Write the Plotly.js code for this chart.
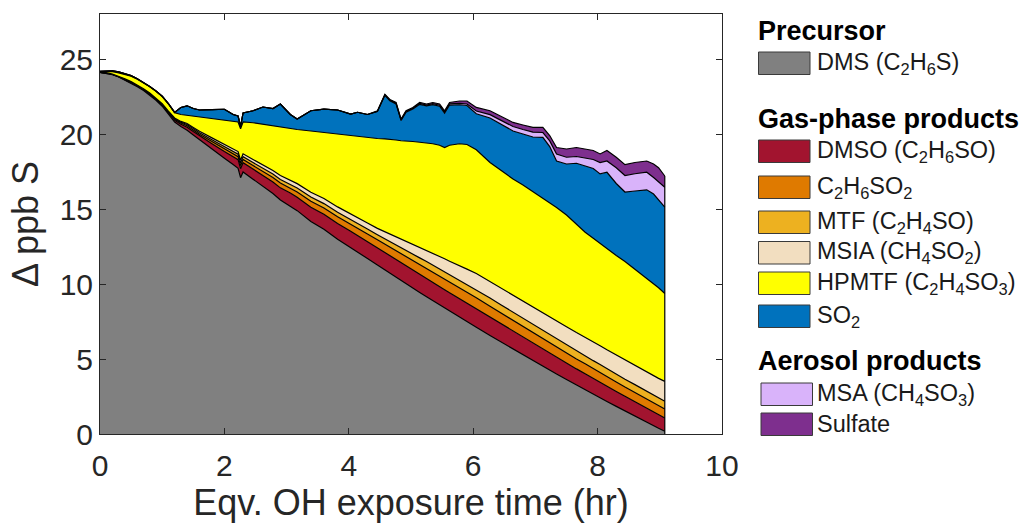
<!DOCTYPE html>
<html>
<head>
<meta charset="utf-8">
<script src="https://cdn.plot.ly/plotly-3.0.1.min.js"></script>
<style>html,body{margin:0;padding:0;background:#fff;}#chart{width:1031px;height:529px;}</style>
</head>
<body>
<div id="chart"></div>
<script>
// Eqv. OH exposure time (hr)
const xs = [0, 0.1, 0.2, 0.3, 0.4, 0.5, 0.6, 0.7, 0.8, 0.9, 1.0, 1.1, 1.2, 1.3, 1.4, 1.5, 1.6, 1.8, 2.0, 2.14, 2.22, 2.26, 2.3, 2.46, 2.62, 2.78, 2.9, 3.06, 3.17, 3.39, 3.6, 3.82, 4.03, 4.14, 4.3, 4.46, 4.58, 4.66, 4.76, 4.84, 4.92, 5.03, 5.14, 5.25, 5.35, 5.46, 5.54, 5.62, 5.78, 5.9, 6.05, 6.27, 6.45, 6.64, 6.8, 6.96, 7.12, 7.23, 7.34, 7.5, 7.66, 7.8, 7.93, 8.04, 8.15, 8.3, 8.44, 8.6, 8.79, 8.9, 8.98, 9.08];

// Species (ppb S), stacked bottom to top
const dms = [24.10, 24.05, 23.95, 23.80, 23.60, 23.40, 23.15, 22.90, 22.60, 22.25, 21.85, 21.30, 20.80, 20.50, 20.25, 19.94, 19.62, 19.00, 18.38, 17.96, 17.71, 17.09, 17.47, 16.99, 16.51, 16.03, 15.60, 15.21, 14.89, 14.17, 13.65, 12.98, 12.44, 12.14, 11.70, 11.26, 10.93, 10.72, 10.45, 10.23, 10.02, 9.73, 9.44, 9.15, 8.89, 8.61, 8.40, 8.19, 7.79, 7.48, 7.11, 6.56, 6.12, 5.66, 5.27, 4.89, 4.51, 4.25, 4.00, 3.63, 3.26, 2.95, 2.65, 2.41, 2.17, 1.84, 1.53, 1.19, 0.78, 0.55, 0.38, 0.18];
const dmso = [0, 0.01, 0.02, 0.02, 0.03, 0.04, 0.05, 0.05, 0.06, 0.07, 0.08, 0.10, 0.12, 0.15, 0.20, 0.22, 0.25, 0.35, 0.45, 0.53, 0.58, 0.60, 0.62, 0.67, 0.72, 0.77, 0.81, 0.86, 0.89, 0.95, 1.00, 1.05, 1.08, 1.10, 1.12, 1.15, 1.16, 1.17, 1.18, 1.19, 1.19, 1.20, 1.21, 1.22, 1.22, 1.22, 1.22, 1.22, 1.22, 1.22, 1.22, 1.21, 1.20, 1.19, 1.18, 1.16, 1.14, 1.13, 1.12, 1.10, 1.08, 1.07, 1.05, 1.04, 1.02, 1.00, 0.98, 0.96, 0.93, 0.92, 0.90, 0.89];
const c2h6so2 = [0, 0.01, 0.01, 0.02, 0.02, 0.02, 0.02, 0.02, 0.03, 0.03, 0.04, 0.05, 0.06, 0.08, 0.10, 0.11, 0.12, 0.15, 0.17, 0.19, 0.20, 0.20, 0.21, 0.24, 0.28, 0.30, 0.32, 0.34, 0.36, 0.40, 0.42, 0.45, 0.48, 0.49, 0.52, 0.54, 0.57, 0.58, 0.60, 0.62, 0.63, 0.65, 0.67, 0.69, 0.70, 0.71, 0.72, 0.72, 0.74, 0.74, 0.75, 0.74, 0.73, 0.72, 0.71, 0.70, 0.69, 0.69, 0.68, 0.67, 0.66, 0.66, 0.65, 0.65, 0.64, 0.63, 0.62, 0.62, 0.61, 0.61, 0.60, 0.60];
const mtf = [0, 0.01, 0.01, 0.01, 0.02, 0.02, 0.02, 0.02, 0.02, 0.02, 0.03, 0.04, 0.05, 0.06, 0.08, 0.09, 0.10, 0.12, 0.15, 0.16, 0.17, 0.18, 0.19, 0.20, 0.22, 0.23, 0.24, 0.25, 0.26, 0.28, 0.29, 0.30, 0.31, 0.31, 0.32, 0.33, 0.34, 0.35, 0.37, 0.38, 0.39, 0.41, 0.42, 0.44, 0.45, 0.47, 0.48, 0.49, 0.52, 0.53, 0.54, 0.55, 0.55, 0.55, 0.55, 0.55, 0.55, 0.55, 0.55, 0.55, 0.55, 0.55, 0.54, 0.54, 0.53, 0.53, 0.52, 0.52, 0.51, 0.51, 0.51, 0.51];
const msia = [0, 0.01, 0.01, 0.01, 0.01, 0.01, 0.02, 0.02, 0.02, 0.02, 0.02, 0.03, 0.04, 0.05, 0.07, 0.08, 0.09, 0.12, 0.15, 0.16, 0.17, 0.18, 0.19, 0.20, 0.22, 0.24, 0.26, 0.28, 0.29, 0.32, 0.34, 0.36, 0.38, 0.39, 0.41, 0.43, 0.49, 0.52, 0.56, 0.59, 0.62, 0.66, 0.70, 0.73, 0.77, 0.82, 0.86, 0.90, 0.97, 1.02, 1.08, 1.11, 1.13, 1.14, 1.15, 1.17, 1.18, 1.19, 1.19, 1.20, 1.21, 1.23, 1.24, 1.25, 1.26, 1.27, 1.28, 1.29, 1.31, 1.32, 1.32, 1.33];
const hpmtf = [0.05, 0.08, 0.15, 0.22, 0.30, 0.36, 0.39, 0.41, 0.42, 0.46, 0.48, 0.48, 0.35, 0.46, 0.55, 0.76, 0.97, 1.31, 1.65, 1.85, 1.97, 2.10, 2.12, 2.45, 2.70, 2.98, 3.22, 3.41, 3.61, 4.08, 4.40, 4.86, 5.21, 5.42, 5.68, 5.99, 6.18, 6.31, 6.44, 6.54, 6.70, 6.85, 7.01, 7.17, 7.32, 7.42, 7.42, 7.73, 8.11, 8.31, 8.25, 7.93, 7.82, 7.74, 7.74, 7.68, 7.63, 7.64, 7.56, 7.45, 7.24, 6.99, 6.92, 6.81, 6.73, 6.63, 6.57, 6.42, 6.26, 6.09, 6.04, 5.86];
const so2 = [0.03, 0.05, 0.06, 0.06, 0.06, 0.04, 0.03, 0.02, 0.02, 0.02, 0.02, 0.02, 0.02, 0.47, 0.63, 0.50, 0.45, 0.57, 0.70, 0.45, 0.40, 0.15, 0.60, 0.80, 1.15, 1.15, 1.55, 0.95, 0.70, 1.35, 1.56, 1.60, 1.43, 1.60, 1.55, 1.80, 2.91, 2.57, 2.41, 1.35, 1.90, 2.16, 2.53, 2.47, 2.61, 2.60, 2.29, 2.68, 2.60, 2.60, 2.40, 2.97, 3.08, 3.20, 3.40, 3.65, 4.08, 3.71, 3.10, 3.40, 4.05, 4.40, 4.65, 4.64, 5.10, 4.80, 4.63, 5.20, 5.88, 6.00, 5.85, 5.76];
const msa = [0, 0, 0, 0, 0, 0, 0, 0, 0, 0, 0, 0, 0, 0, 0, 0, 0, 0, 0, 0, 0, 0, 0, 0, 0, 0, 0, 0, 0, 0, 0, 0, 0, 0, 0, 0.02, 0.03, 0.04, 0.04, 0.04, 0.05, 0.05, 0.06, 0.06, 0.07, 0.07, 0.08, 0.08, 0.09, 0.10, 0.18, 0.22, 0.25, 0.30, 0.30, 0.32, 0.32, 0.38, 0.47, 0.45, 0.45, 0.55, 0.60, 0.76, 0.75, 1.05, 1.10, 1.15, 1.17, 1.10, 1.20, 1.32];
const sulfate = [0, 0, 0, 0, 0, 0, 0, 0, 0, 0, 0, 0, 0, 0, 0, 0, 0, 0, 0, 0, 0, 0, 0, 0, 0, 0, 0, 0, 0, 0, 0, 0, 0, 0, 0, 0.02, 0.04, 0.04, 0.05, 0.05, 0.05, 0.06, 0.06, 0.07, 0.07, 0.08, 0.08, 0.09, 0.16, 0.20, 0.24, 0.26, 0.27, 0.27, 0.30, 0.32, 0.34, 0.36, 0.43, 0.55, 0.60, 0.60, 0.60, 0.57, 0.70, 0.70, 0.73, 0.75, 0.75, 0.90, 0.95, 0.75];

const seriesNames = ['DMS (C<sub>2</sub>H<sub>6</sub>S)', 'DMSO (C<sub>2</sub>H<sub>6</sub>SO)', 'C<sub>2</sub>H<sub>6</sub>SO<sub>2</sub>', 'MTF (C<sub>2</sub>H<sub>4</sub>SO)', 'MSIA (CH<sub>4</sub>SO<sub>2</sub>)', 'HPMTF (C<sub>2</sub>H<sub>4</sub>SO<sub>3</sub>)', 'SO<sub>2</sub>', 'MSA (CH<sub>4</sub>SO<sub>3</sub>)', 'Sulfate'];
const seriesColors = ['#808080', '#A2142F', '#DF7A00', '#EDB120', '#F2DEC0', '#FFFF00', '#0072BD', '#D9B3FA', '#7E2F8E'];
const seriesData = [dms, dmso, c2h6so2, mtf, msia, hpmtf, so2, msa, sulfate];
const groupTitles = ['Precursor', 'Gas-phase products', 'Aerosol products'];
const xTicks = [0, 2, 4, 6, 8, 10];
const yTicks = [0, 5, 10, 15, 20, 25];

const FONT = 'Liberation Sans, Arial, Helvetica, sans-serif';
const AX = '#262626';

const traces = seriesData.map((vals, i) => ({
  type: 'scatter', mode: 'lines', x: xs, y: vals, stackgroup: 'one',
  name: seriesNames[i], fillcolor: seriesColors[i],
  line: {color: '#000000', width: 1.2}, showlegend: false, hoverinfo: 'skip'
}));
// right-hand closing edge of the stacked patches
const last = xs.length - 1;
const totalLast = seriesData.reduce((s, a) => s + a[last], 0);
traces.push({type: 'scatter', mode: 'lines', x: [xs[last], xs[last]], y: [0, totalLast],
  line: {color: '#000000', width: 1.2}, showlegend: false, hoverinfo: 'skip'});

// legend (drawn in paper coordinates)
const L = 100, T = 14, PW = 622, PH = 420;
const px = v => (v - L) / PW;
const py = v => (T + PH - v) / PH;
const swatchTop = [52, 140, 176, 211, 241.5, 272, 305, 383, 413];
const swatchH = 22.5;
const headingY = [31, 118.5, 360.5];

const shapes = [], annotations = [];
seriesNames.forEach((nm, i) => {
  const x0 = i >= 7 ? 761 : 758.5;
  shapes.push({type: 'rect', xref: 'paper', yref: 'paper', x0: px(x0), x1: px(x0 + 51.5),
    y0: py(swatchTop[i] + swatchH), y1: py(swatchTop[i]), fillcolor: seriesColors[i],
    line: {color: '#3a3a3a', width: 1}});
  annotations.push({xref: 'paper', yref: 'paper', x: px(815), y: py(swatchTop[i] + swatchH / 2),
    xanchor: 'left', yanchor: 'middle', showarrow: false, text: nm,
    font: {family: FONT, size: 23.5, color: '#1a1a1a'}});
});
groupTitles.forEach((t, i) => {
  annotations.push({xref: 'paper', yref: 'paper', x: px(756), y: py(headingY[i]),
    xanchor: 'left', yanchor: 'middle', showarrow: false, text: '<b>' + t + '</b>',
    font: {family: FONT, size: 27, color: '#000000'}});
});

const axisCommon = {
  showgrid: false, zeroline: false, showline: true, linecolor: AX, linewidth: 1,
  mirror: 'ticks', ticks: 'inside', ticklen: 6, tickcolor: AX, tickwidth: 1,
  tickfont: {family: FONT, size: 30, color: AX}
};

const layout = {
  width: 1031, height: 529,
  margin: {l: L, r: 1031 - L - PW, t: T, b: 529 - T - PH, pad: 0},
  paper_bgcolor: '#ffffff', plot_bgcolor: '#ffffff',
  font: {family: FONT, color: AX},
  showlegend: false,
  xaxis: Object.assign({}, axisCommon, {range: [0, 10], tickvals: xTicks, ticktext: xTicks.map(String),
    ticklabelstandoff: 5,
    title: {text: 'Eqv. OH exposure time (hr)', font: {family: FONT, size: 36, color: AX}, standoff: 6}}),
  yaxis: Object.assign({}, axisCommon, {range: [0, 28], tickvals: yTicks, ticktext: yTicks.map(String),
    title: {text: '\u0394 ppb S', font: {family: FONT, size: 36, color: AX}, standoff: 10}}),
  shapes: shapes, annotations: annotations
};

Plotly.newPlot('chart', traces, layout, {displayModeBar: false, staticPlot: true});
</script>
</body>
</html>
